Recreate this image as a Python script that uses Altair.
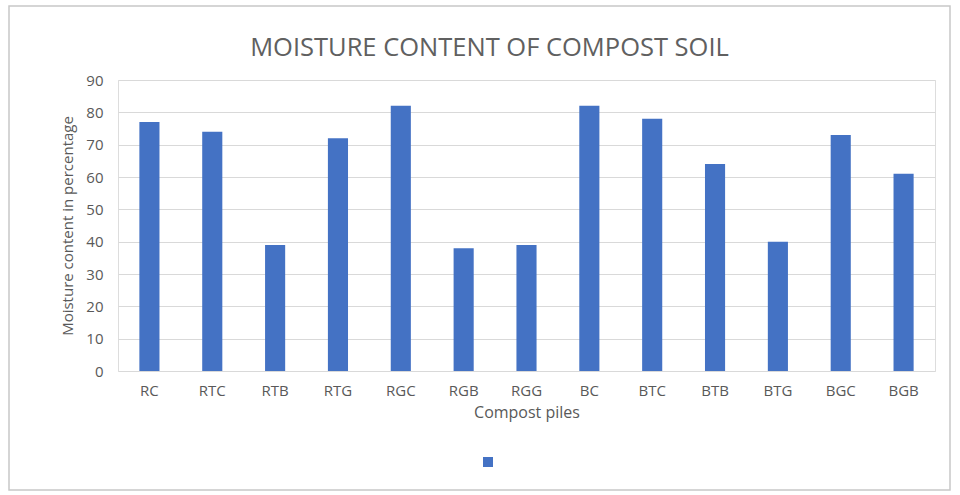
import altair as alt
import pandas as pd

piles = ["RC", "RTC", "RTB", "RTG", "RGC", "RGB", "RGG", "BC", "BTC", "BTB", "BTG", "BGC", "BGB"]
moisture = [77, 74, 39, 72, 82, 38, 39, 82, 78, 64, 40, 73, 61]
series = [""] * len(piles)

df = pd.DataFrame({"pile": piles, "moisture": moisture, "series": series})

FONT = "Open Sans"
GREY = "#595959"

bars = alt.Chart(df).mark_bar(color="#4472C4").encode(
    x=alt.X("pile:N", sort=piles, title="Compost piles",
            scale=alt.Scale(paddingInner=0.68, paddingOuter=0.34),
            axis=alt.Axis(labelAngle=0, ticks=False, domain=False, labelPadding=12,
                          titlePadding=6, labelFontSize=15, titleFontSize=16,
                          labelColor=GREY, titleColor=GREY, labelFont=FONT, titleFont=FONT,
                          titleFontWeight="normal")),
    y=alt.Y("moisture:Q", title="Moisture content in percentage",
            scale=alt.Scale(domain=[0, 90]),
            axis=alt.Axis(values=list(range(0, 91, 10)), ticks=False, domain=False,
                          labelPadding=15, titlePadding=10, labelFontSize=15, titleFontSize=15,
                          gridColor="#d9d9d9", labelColor=GREY, titleColor=GREY,
                          labelFont=FONT, titleFont=FONT, titleFontWeight="normal")),
    fill=alt.Fill("series:N", scale=alt.Scale(range=["#4472C4"]),
                  legend=alt.Legend(orient="none", legendX=365, legendY=377, title=None,
                                    symbolType="square", symbolSize=100, labelFontSize=1,
                                    labelColor="white", symbolStrokeWidth=0)),
)

frame = alt.Chart(pd.DataFrame({"f": [0]})).mark_rect(
    fill="transparent", stroke="#c8c8c8", strokeWidth=1.5
).encode(
    x=alt.value(-109), x2=alt.value(832), y=alt.value(-74), y2=alt.value(410)
)

chart = alt.layer(frame, bars).properties(
    width=817, height=291,
    title=alt.TitleParams("MOISTURE CONTENT OF COMPOST SOIL", font=FONT, fontSize=25.5,
                          fontWeight="normal", color="#606060", offset=-56, dx=-37),
    autosize=alt.AutoSizeParams(type="none"),
    padding={"left": 118, "top": 80, "right": 25, "bottom": 124},
).configure_view(stroke=None).configure(background="white")

chart.save("out.html", embed_options={"renderer": "svg", "actions": False})
